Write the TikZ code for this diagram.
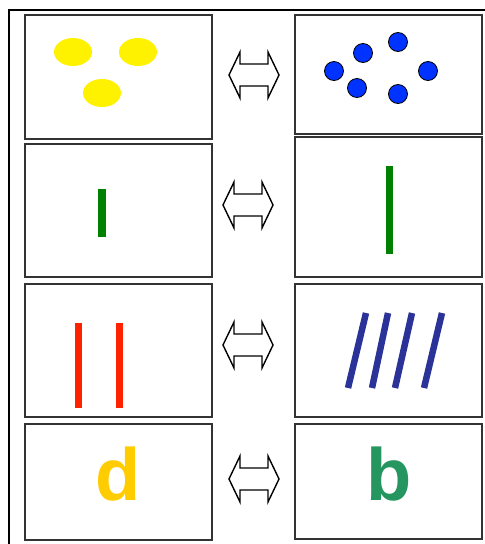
\documentclass[tikz,border=0pt]{standalone}
\usepackage{fontspec}
\newfontfamily\glyphfont{Liberation Sans}
\usetikzlibrary{shapes.geometric,positioning}
\definecolor{dotblue}{RGB}{0,51,255}
\definecolor{leafgreen}{RGB}{0,128,0}
\definecolor{barred}{RGB}{255,34,0}
\definecolor{inkblue}{RGB}{43,51,153}
\definecolor{dgold}{RGB}{255,204,0}
\definecolor{bgreen}{RGB}{38,150,96}
\tikzset{
  panel/.style={rectangle,draw=black!80,line width=1.2pt,minimum width=187pt,inner sep=0pt},
  eqv/.pic={\draw[line width=1.4pt,line join=miter,fill=white]
    (-25,0) -- (-14,-23) -- (-14,-11) -- (14,-11) -- (14,-23) -- (25,0)
    -- (14,23) -- (14,11) -- (-14,11) -- (-14,23) -- cycle;},
  blob/.style={ellipse,fill=yellow,minimum width=38pt,minimum height=28pt,inner sep=0pt},
  dot/.style={circle,fill=dotblue,draw=black,line width=0.8pt,minimum size=19pt,inner sep=0pt},
  bar/.style={line width=7pt},
  letter/.style={font=\glyphfont\bfseries\fontsize{74}{74}\selectfont,inner sep=0pt,anchor=base}
}
\begin{document}
\begin{tikzpicture}[x=1pt,y=-1pt]
\useasboundingbox (0,0) rectangle (485,544);
\draw[line width=2pt] (485,10) -- (9,10) -- (9,544);
% panels
\node[panel,minimum height=124pt] (l1) at (118.5,77) {};
\node[panel,minimum height=119pt] (r1) at (388.5,74.5) {};
\node[panel,minimum height=133pt] (l2) at (118.5,210.5) {};
\node[panel,minimum height=140pt] (r2) at (388.5,207) {};
\node[panel,minimum height=133pt] (l3) at (118.5,350.5) {};
\node[panel,minimum height=133pt] (r3) at (388.5,350.5) {};
\node[panel,minimum height=116pt] (l4) at (118.5,482) {};
\node[panel,minimum height=115pt] (r4) at (388.5,481.5) {};
% arrows
\pic (e1) at (254,75) {eqv};
\pic (e2) at (248,205) {eqv};
\pic (e3) at (248,345) {eqv};
\pic (e4) at (254,479) {eqv};
% row 1
\node[blob] (y1) at (73,52) {};
\node[blob] (y2) at (138,52) {};
\node[blob] (y3) at (102,93) {};
\foreach \i/\p in {1/{334,71},2/{363,53},3/{398,42},4/{428,71},5/{357,88},6/{398,94}}
  \node[dot] (d\i) at (\p) {};
% row 2
\draw[bar,leafgreen,line width=8pt] (102,189) -- (102,237);
\draw[bar,leafgreen] (389.5,166) -- (389.5,254);
% row 3
\draw[bar,barred] (78.5,323) -- (78.5,408);
\draw[bar,barred] (119.5,323) -- (119.5,408);
\foreach \a/\b in {366/348,388/372,412/395,442/424}
  \draw[bar,inkblue,line width=6.5pt] (\a,313) -- (\b,388);
% row 4
\node[letter,text=dgold] (cd) at (118,500) {d};
\node[letter,text=bgreen] (cb) at (389,500) {b};
\end{tikzpicture}
\end{document}
